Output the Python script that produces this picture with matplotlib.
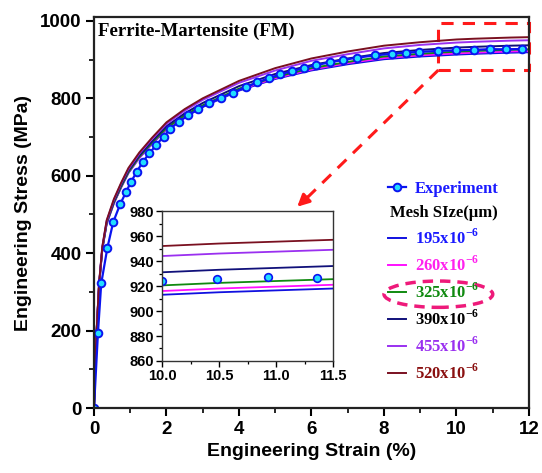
import matplotlib.pyplot as plt
from matplotlib.patches import Rectangle, Ellipse
from matplotlib.lines import Line2D

plt.rcParams['mathtext.fontset'] = 'custom'
plt.rcParams['mathtext.rm'] = 'Liberation Serif:bold'
plt.rcParams['mathtext.bf'] = 'Liberation Serif:bold'

# simulated curves (strain %, stress MPa) for each mesh size
strain = [0, 0.03, 0.07, 0.14, 0.23, 0.35, 0.55, 0.75, 0.95, 1.25, 1.6, 2.0, 2.5,
          3, 4, 5, 6, 7, 8, 9, 10, 10.5, 11, 11.5, 12]
s195 = [0, 99, 192, 317, 410, 476, 529, 570, 607, 646, 682, 720, 752,
        778, 820, 850, 872, 888, 901, 908, 913, 915, 916.5, 918, 919]
s260 = [0, 99, 192, 317, 411, 477, 530, 571, 608, 647, 683, 721, 754,
        780, 822, 852, 874.5, 891, 904, 911, 916, 918, 919.5, 921, 922]
s325 = [0, 99, 193, 318, 411, 478, 531, 572, 609, 649, 685, 723, 756,
        782, 825, 855, 878, 894, 908, 915, 920.5, 922.5, 924, 925.5, 926.5]
s390 = [0, 99, 193, 319, 413, 480, 534, 576, 613, 652, 689, 728, 761,
        788, 831.5, 863, 886, 903, 917, 925, 931, 933, 934.5, 936, 937]
s455 = [0, 100, 194, 321, 416, 483, 538, 580, 617, 657, 695, 734, 768,
        796, 840, 872, 897, 914, 929, 938, 944, 946, 947.5, 949, 950]
s520 = [0, 100, 195, 322, 417, 485, 540, 582, 620, 660, 698, 738, 772,
        800, 845, 878, 903, 921, 936, 945, 952, 954, 955.5, 957, 958]

# experimental curve
exp_strain = [0, 0.11, 0.2, 0.37, 0.53, 0.72, 0.88, 1.02, 1.18, 1.34, 1.53, 1.72,
              1.92, 2.11, 2.35, 2.6, 2.88, 3.18, 3.5, 3.84, 4.18, 4.5, 4.82, 5.14,
              5.46, 5.78, 6.13, 6.52, 6.87, 7.26, 7.75, 8.23, 8.6, 8.97, 9.5, 10.0,
              10.48, 10.93, 11.36, 11.8]
exp_stress = [0, 195, 322, 414, 480, 526, 557, 584, 610, 635, 658, 680,
              701, 722, 740, 756, 772, 787, 801, 815, 829, 841, 852, 862,
              870, 878, 886, 893, 899, 905, 911, 915, 918, 920, 922.5, 924,
              925.3, 927, 926.6, 927.5]

sims = [s195, s260, s325, s390, s455, s520]
labels = ['195', '260', '325', '390', '455', '520']
line_colors = ['#1010e0', '#ff10ff', '#108a10', '#10107a', '#9a30f0', '#7a1020']
text_colors = ['#1a1aff', '#ff22ee', '#108a10', '#000000', '#9a30f0', '#8a1010']

fig = plt.figure(figsize=(5.42, 4.73), dpi=100)
ax = fig.add_axes([0.1734, 0.1374, 0.8026, 0.8266])

handles = []
for s, c in zip(sims, line_colors):
    h, = ax.plot(strain, s, color=c, lw=1.4)
    handles.append(h)
hexp, = ax.plot(exp_strain, exp_stress, color='#0a14f0', lw=1.6, marker='o',
                ms=5.5, mfc='#22ddff', mec='#0a14f0', mew=1.4)

ax.set_xlim(0, 12)
ax.set_ylim(0, 1010)
ax.set_xticks(range(0, 13, 2))
ax.set_xticks(range(0, 13, 1), minor=True)
ax.set_yticks(range(0, 1001, 200))
ax.set_yticks(range(0, 1001, 100), minor=True)
ax.tick_params(which='major', length=6, width=1.5, labelsize=13.5, pad=3)
ax.tick_params(which='minor', length=3.5, width=1.2)
for lab in ax.get_xticklabels() + ax.get_yticklabels():
    lab.set_fontfamily('Liberation Sans')
    lab.set_fontweight('bold')
for sp in ax.spines.values():
    sp.set_linewidth(1.6)
    sp.set_color('#222222')
ax.set_xlabel('Engineering Strain (%)', fontsize=14, fontweight='bold',
              family='Liberation Sans', labelpad=4)
ax.set_ylabel('Engineering Stress (MPa)', fontsize=14, fontweight='bold',
              family='Liberation Sans', labelpad=6)

ax.text(0.01, 0.985, 'Ferrite-Martensite (FM)', transform=ax.transAxes,
        ha='left', va='top', fontsize=13.5, fontweight='bold',
        family='Liberation Serif')

# legend
blank = Line2D([], [], color='none')
leg_handles = [hexp, blank] + handles
leg_labels = ['Experiment', 'Mesh SIze(\u03bcm)'] + \
    [l + 'x10$^{\\mathbf{-6}}$' for l in labels]
leg = ax.legend(leg_handles, leg_labels, loc='upper left',
                bbox_to_anchor=(0.66, 0.597), frameon=False,
                prop={'family': 'Liberation Serif', 'weight': 'bold', 'size': 12},
                handlelength=1.1, handletextpad=0.55, labelspacing=0.46,
                borderaxespad=0)
leg_colors = ['#1a1aff', '#000000'] + text_colors
for t, c in zip(leg.get_texts(), leg_colors):
    t.set_color(c)
leg.legend_handles[1].set_visible(False)
leg.get_texts()[1].set_position((-25, 0))

# dashed ellipse around the 325 entry
ax.add_patch(Ellipse((9.5, 294), 3.0, 68, fill=False, ec='#ee1a7a',
                     ls=(0, (3, 2)), lw=2.5, clip_on=False))

# zoom box and arrow
ax.add_patch(Rectangle((9.5, 873), 2.5, 121, fill=False, ec='#ff1a1a',
                       ls=(0, (4, 3)), lw=2.2, clip_on=False))
ax.plot([9.5, 5.9], [873, 545], color='#ff1a1a', ls=(0, (4, 3)), lw=2.2)
ax.annotate('', xy=(5.55, 515), xytext=(5.95, 550),
            arrowprops=dict(arrowstyle='-|>,head_length=0.7,head_width=0.35',
                            color='#ff1a1a', lw=2.2))

# inset
axi = fig.add_axes([0.299, 0.2368, 0.3155, 0.317])
for s, c in zip(sims, line_colors):
    axi.plot(strain, s, color=c, lw=1.3)
axi.plot(exp_strain, exp_stress, ls='none', marker='o', ms=5.5,
         mfc='#22ddff', mec='#0a14f0', mew=1.2)
axi.set_xlim(10, 11.5)
axi.set_ylim(860, 980)
axi.set_xticks([10.0, 10.5, 11.0, 11.5])
axi.set_xticklabels(['10.0', '10.5', '11.0', '11.5'])
axi.set_xticks([10.25, 10.75, 11.25], minor=True)
axi.set_yticks(range(860, 981, 20))
axi.set_yticks(range(870, 980, 20), minor=True)
axi.tick_params(which='major', length=4, width=1.0, labelsize=10.5, pad=1.5)
axi.tick_params(which='minor', length=2.5, width=0.9)
for lab in axi.get_xticklabels() + axi.get_yticklabels():
    lab.set_fontfamily('Liberation Sans')
    lab.set_fontweight('bold')
for sp in axi.spines.values():
    sp.set_linewidth(1.0)
    sp.set_color('#333333')

fig.savefig('out.png', dpi=100)
